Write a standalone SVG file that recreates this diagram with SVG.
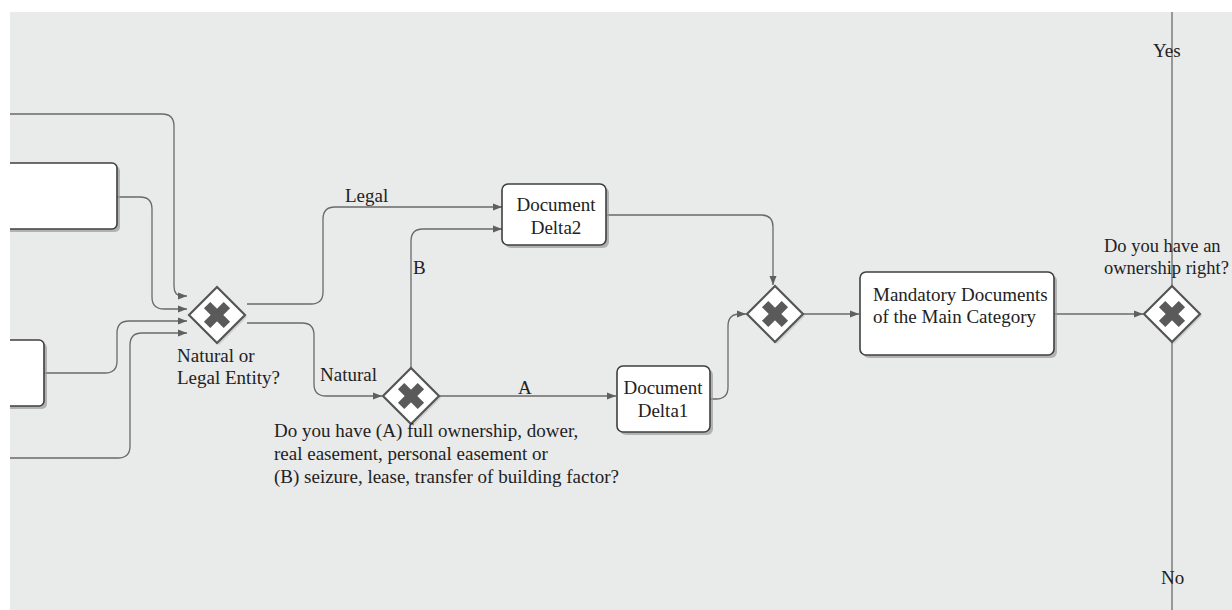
<svg xmlns="http://www.w3.org/2000/svg" width="1232" height="610" viewBox="0 0 1232 610">
<style>
.bg{fill:#e9eaea}
.box{fill:#ffffff;stroke:#3f3f3f;stroke-width:1.6}
.shadow{fill:#9a9a9a;opacity:0.7}
.gw{fill:#ffffff;stroke:#555555;stroke-width:2.2}
.gwsh{fill:#bdbdbd;opacity:0.6}
.x{fill:#5a5a5a}
.con{fill:none;stroke:#6a6a6a;stroke-width:1.3}
.t{font-family:"Liberation Serif","Times New Roman",serif;font-size:19px;fill:#222222}
.c{text-anchor:middle}
</style>
<defs>
<clipPath id="area"><rect x="10" y="12" width="1222" height="598"/></clipPath>
<marker id="arr" markerWidth="10" markerHeight="8" refX="9" refY="4" orient="auto" markerUnits="userSpaceOnUse">
<path d="M0,0.5 L9,4 L0,7.5 Z" fill="#5f5f5f"/>
</marker>
<g id="gateway">
<polygon class="gwsh" points="2,-26 30,2 2,30 -26,2"/>
<polygon class="gw" points="0,-28 28,0 0,28 -28,0"/>
<rect class="x" x="-14" y="-4.5" width="28" height="9" transform="rotate(45)"/>
<rect class="x" x="-14" y="-4.5" width="28" height="9" transform="rotate(-45)"/>
</g>
</defs>
<rect width="1232" height="610" fill="#ffffff"/>
<rect class="bg" x="10" y="12" width="1222" height="598"/>
<g clip-path="url(#area)">
<g id="connectors">
<path class="con" d="M10,114 H162 Q174,114 174,126 V286 Q174,296 182,296 H187" marker-end="url(#arr)"/>
<path class="con" d="M117,197 H140 Q152,197 152,209 V297 Q152,309 164,309 H187" marker-end="url(#arr)"/>
<path class="con" d="M44,373 H105 Q117,373 117,361 V333 Q117,321 129,321 H187" marker-end="url(#arr)"/>
<path class="con" d="M10,458 H118 Q130,458 130,446 V345 Q130,333 142,333 H187" marker-end="url(#arr)"/>
<path class="con" d="M247,304 H311 Q323,304 323,292 V219 Q323,207 335,207 H502" marker-end="url(#arr)"/>
<path class="con" d="M247,323 H302 Q314,323 314,335 V384 Q314,396 326,396 H382" marker-end="url(#arr)"/>
<path class="con" d="M411,368 V241 Q411,229 423,229 H502" marker-end="url(#arr)"/>
<path class="con" d="M439,396 H616" marker-end="url(#arr)"/>
<path class="con" d="M607,215 H761 Q773,215 773,227 V285" marker-end="url(#arr)"/>
<path class="con" d="M710,399 H716 Q728,399 728,387 V326 Q728,314 740,314 H746" marker-end="url(#arr)"/>
<path class="con" d="M803,314 H859" marker-end="url(#arr)"/>
<path class="con" d="M1054,314 H1143" marker-end="url(#arr)"/>
<path class="con" d="M1172,12 V610"/>
<text class="t" x="345" y="202">Legal</text>
<text class="t" x="320" y="381">Natural</text>
<text class="t" x="413" y="274">B</text>
<text class="t" x="518" y="394">A</text>
<text class="t" x="1153" y="57">Yes</text>
<text class="t" x="1161" y="584">No</text>
</g>
<g id="box-left-1">
<rect class="shadow" x="-7" y="166" width="127" height="66" rx="5"/>
<rect class="box" x="-10" y="163" width="127" height="66" rx="5"/>
</g>
<g id="box-left-2">
<rect class="shadow" x="-7" y="343" width="54" height="66" rx="5"/>
<rect class="box" x="-10" y="340" width="54" height="66" rx="5"/>
</g>
<g id="gateway-entity">
<use href="#gateway" x="217" y="315"/>
<text class="t" x="177" y="362">Natural or</text>
<text class="t" x="177" y="384">Legal Entity?</text>
</g>
<g id="gateway-right-type">
<use href="#gateway" x="411" y="396"/>
<text class="t" x="274" y="437">Do you have (A) full ownership, dower,</text>
<text class="t" x="274" y="460">real easement, personal easement or</text>
<text class="t" x="274" y="483">(B) seizure, lease, transfer of building factor?</text>
</g>
<g id="doc-delta2">
<rect class="shadow" x="505" y="187" width="104" height="61" rx="6"/>
<rect class="box" x="502" y="184" width="104" height="61" rx="6"/>
<text class="t c" x="556" y="211">Document</text>
<text class="t c" x="556" y="234">Delta2</text>
</g>
<g id="doc-delta1">
<rect class="shadow" x="620" y="369" width="93" height="66" rx="6"/>
<rect class="box" x="617" y="366" width="93" height="66" rx="6"/>
<text class="t c" x="663" y="394">Document</text>
<text class="t c" x="663" y="417">Delta1</text>
</g>
<g id="gateway-merge">
<use href="#gateway" x="775" y="314"/>
</g>
<g id="mandatory-docs">
<rect class="shadow" x="863" y="275" width="194" height="83" rx="6"/>
<rect class="box" x="860" y="272" width="194" height="83" rx="6"/>
<text class="t" x="873" y="301">Mandatory Documents</text>
<text class="t" x="873" y="323">of the Main Category</text>
</g>
<g id="gateway-ownership">
<use href="#gateway" x="1172" y="314"/>
<text class="t" x="1104" y="252" style="font-size:18.5px">Do you have an</text>
<text class="t" x="1104" y="274" style="font-size:18.5px">ownership right?</text>
</g>
</g>
</svg>
